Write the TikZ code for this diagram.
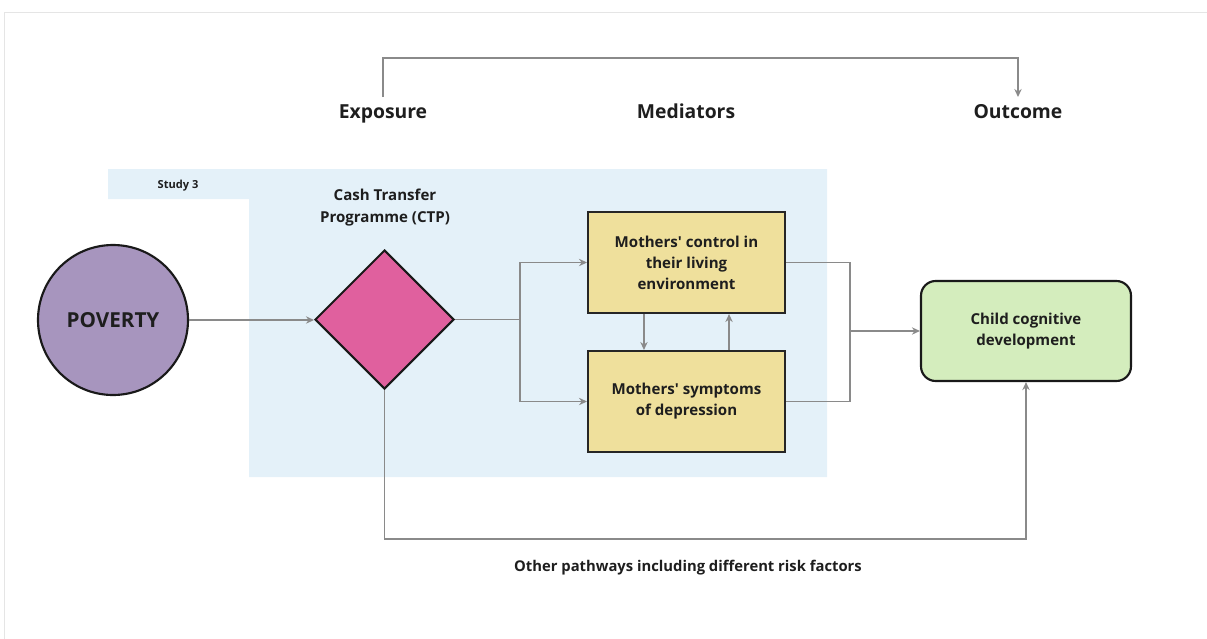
\documentclass[tikz,border=0pt]{standalone}
\usepackage{fontspec}
\setmainfont{Open Sans}
\usetikzlibrary{shapes.geometric,arrows.meta}
\definecolor{bgblue}{HTML}{E4F1F9}
\definecolor{povpurple}{HTML}{A795BE}
\definecolor{ctppink}{HTML}{E0609E}
\definecolor{medyellow}{HTML}{EFE09C}
\definecolor{outgreen}{HTML}{D4EDBD}
\definecolor{arrgray}{HTML}{8A8A8A}
\definecolor{txt}{HTML}{1E1E1E}
\newcommand{\apos}{\textquotesingle}
\tikzset{
  conn/.style={draw=arrgray, line width=1.1pt},
  arr/.style={conn, -{Stealth[length=6pt,width=5.5pt]}},
  medbox/.style={draw=black!85, line width=1.5pt, fill=medyellow, minimum width=147.75pt, minimum height=75.75pt, align=center, font=\fontsize{11.3}{15.75}\selectfont\bfseries, text=txt},
  head/.style={font=\fontsize{14.5}{17}\selectfont\bfseries, text=txt, inner sep=0pt, anchor=base},
  lbl/.style={font=\fontsize{11.3}{16.5}\selectfont\bfseries, text=txt, align=center, inner sep=0pt},
}
\begin{document}
\begin{tikzpicture}[x=0.75pt,y=-0.75pt]
\useasboundingbox (0,0) rectangle (1207,639);
\draw[black!10, line width=0.6pt] (4,639) -- (4,12) -- (1207,12);
% study region
\fill[bgblue] (108,169) -- (827,169) -- (827,477) -- (249,477) -- (249,199) -- (108,199) -- cycle;
\node[lbl, font=\fontsize{8.3}{10}\selectfont\bfseries] (study) at (178,186) {Study 3};
% headers
\node[head] (exp) at (383,118) {Exposure};
\node[head] (med) at (686,118) {Mediators};
\node[head] (out) at (1018,118) {Outcome};
% nodes
\node[circle, draw=black!90, line width=1.6pt, fill=povpurple, minimum size=112.5pt, inner sep=0pt, font=\fontsize{15.5}{18}\selectfont\bfseries, text=txt] (pov) at (113,320) {POVERTY};
\node[diamond, draw=black!90, line width=1.5pt, fill=ctppink, minimum width=104.25pt, minimum height=104.25pt, inner sep=0pt] (ctp) at (384.5,319.5) {};
\node[lbl] (ctplbl) at (385,208) {Cash Transfer\\Programme (CTP)};
\node[medbox] (b1) at (686.5,262.5) {Mothers\apos{} control in\\their living\\environment};
\node[medbox] (b2) at (686.5,401.5) {Mothers\apos{} symptoms\\of depression};
\node[draw=black!90, line width=1.6pt, fill=outgreen, rounded corners=11pt, minimum width=157.5pt, minimum height=75pt, align=center, font=\fontsize{11.3}{15.75}\selectfont\bfseries, text=txt] (child) at (1026,331) {Child cognitive\\development};
\node[lbl, font=\fontsize{11.1}{13}\selectfont\bfseries] (other) at (688,568) {Other pathways including different risk factors};
% connectors
\coordinate (split) at (520,319.5);
\coordinate (merge) at (850,331);
\draw[arr] (pov.east) -- (pov.east -| ctp.west);
\draw[conn] (ctp.east) -- (split);
\draw[arr] (split) |- (b1.west);
\draw[arr] (split) |- (b2.west);
\draw[arr] ([xshift=-31.9pt]b1.south) -- ([xshift=-31.9pt]b2.north);
\draw[arr] ([xshift=31.9pt]b2.north) -- ([xshift=31.9pt]b1.south);
\draw[conn] (b1.east) -| (merge);
\draw[conn] (b2.east) -| (merge);
\draw[arr] (merge) -- (child.west);
\draw[arr] (ctp.south) -- ++(0,149) -| (child.south);
\draw[arr] ([yshift=15.75pt]exp.base) -- ++(0,-39) -| ([yshift=15.75pt]out.base);
\end{tikzpicture}
\end{document}
